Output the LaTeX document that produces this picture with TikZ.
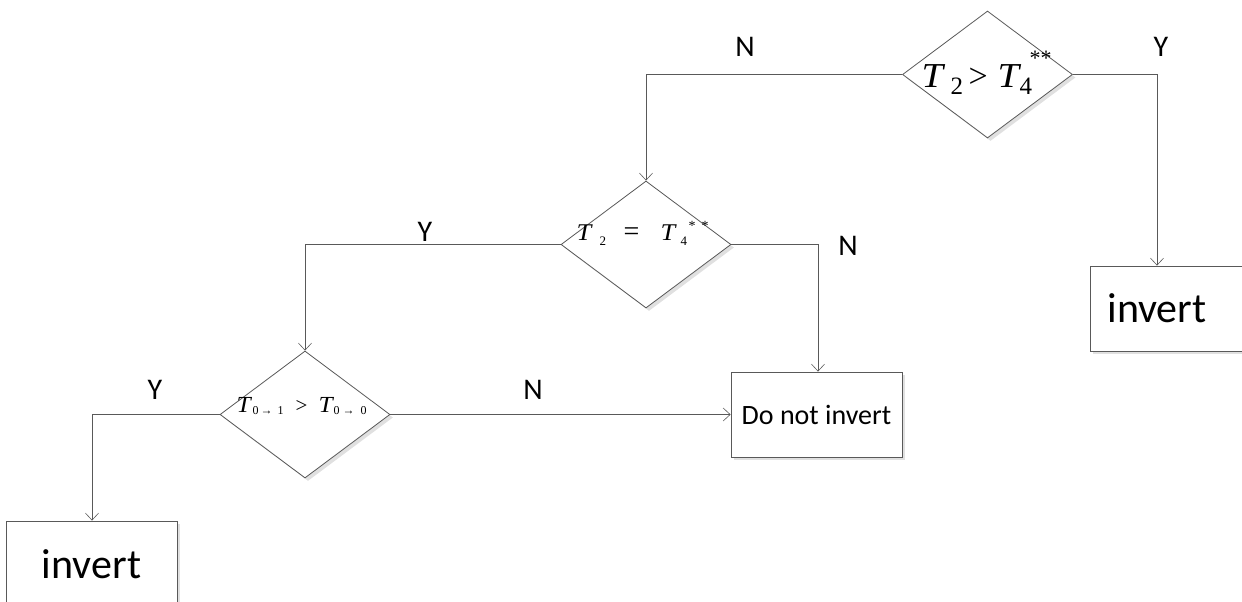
\documentclass[tikz,border=0pt]{standalone}
\usepackage{fontspec}
\setmainfont{Carlito}
\newfontfamily\tms{Liberation Serif}
\usetikzlibrary{shapes.geometric,arrows.meta,shadows}
% place a piece at horizontal offset #1, vertical raise #2, font size #3
\newcommand\pc[4]{\rlap{\hspace{#1}\raisebox{#2}{\fontsize{#3}{#3}\selectfont #4}}}
\newcommand\wT{\scalebox{1.1}[1]{\itshape T}}
\tikzset{
  line/.style={draw=black!65, line width=0.8pt},
  arr/.style={line, -{Straight Barb[length=7pt,width=13pt,line width=0.6pt]}},
  shad/.style={drop shadow={shadow xshift=3pt,shadow yshift=-3pt,fill=black!12,opacity=1}},
  dec/.style={diamond, line, fill=white, shad, minimum width=170pt, minimum height=127pt, inner sep=0pt},
  boxs/.style={rectangle, line, fill=white, shad, minimum width=171pt, minimum height=85pt, inner sep=0pt},
  lbl/.style={font=\fontsize{30}{34}\selectfont, inner sep=0pt},
  big/.style={font=\fontsize{42}{46}\selectfont, inner sep=0pt},
  mth/.style={inner sep=0pt, anchor=base west, font=\tms},
}
\begin{document}
\begin{tikzpicture}[x=1pt,y=-1pt]
\useasboundingbox (0,0) rectangle (1242,602);
% shapes
\node[dec] (d1) at (987.5,74.5) {};
\node[dec] (d2) at (646,244.5) {};
\node[dec] (d3) at (305,414.5) {};
\node[boxs] (inv1) at (1175.5,308.5) {};
\node[boxs] (dni) at (816.5,414.5) {};
\node[boxs] (inv2) at (91.5,563.5) {};
% texts
\node[mth] (t1) at (921,87)
  {\pc{0pt}{0pt}{35}{\wT}\pc{29pt}{-8pt}{25}{2}\pc{47pt}{0pt}{34}{>}\pc{76pt}{0pt}{35}{\wT}\pc{98pt}{-8pt}{25}{4}\pc{108pt}{21pt}{22}{**}};
\node[mth] (t2) at (576,240)
  {\pc{0pt}{0pt}{24}{\wT}\pc{23pt}{-5pt}{13}{2}\pc{47pt}{0pt}{28}{=}\pc{84pt}{0pt}{24}{\wT}\pc{104pt}{-5pt}{13}{4}\pc{112pt}{10pt}{14}{*}\pc{125pt}{10pt}{14}{*}};
\node[mth] (t3) at (236,412)
  {\pc{0pt}{0pt}{23}{\wT}\pc{16pt}{-2pt}{12}{0}\pc{24pt}{-2pt}{12}{→}\pc{41pt}{-2pt}{12}{1}\pc{59pt}{0pt}{21}{>}\pc{82pt}{0pt}{23}{\wT}\pc{97pt}{-2pt}{12}{0}\pc{106pt}{-2pt}{12}{→}\pc{124pt}{-2pt}{12}{0}};
\node[big] (i1t) at (1157,308) {invert};
\node[big] (i2t) at (91.5,564) {invert};
\node[inner sep=0pt, font=\fontsize{28}{32}\selectfont] (dnit) at (816.5,415) {Do not invert};
% connectors
\coordinate (c1) at (646,74.5);
\coordinate (c2) at (1157,74.5);
\coordinate (c3) at (305,244.5);
\coordinate (c4) at (818,244.5);
\coordinate (c5) at (92,414.5);
\draw[arr] (d1.west) -- (c1) -- (d2.north);
\draw[arr] (d1.east) -- (c2) -- (c2 |- inv1.north);
\draw[arr] (d2.west) -- (c3) -- (d3.north);
\draw[arr] (d2.east) -- (c4) -- (c4 |- dni.north);
\draw[arr] (d3.west) -- (c5) -- (c5 |- inv2.north);
\draw[arr] (d3.east) -- (dni.west);
% labels
\node[lbl] (l1) at (745,47) {N};
\node[lbl] (l2) at (1161,47) {Y};
\node[lbl] (l3) at (425,232) {Y};
\node[lbl] (l4) at (848,246) {N};
\node[lbl] (l5) at (155,390) {Y};
\node[lbl] (l6) at (533,390) {N};
\end{tikzpicture}
\end{document}
